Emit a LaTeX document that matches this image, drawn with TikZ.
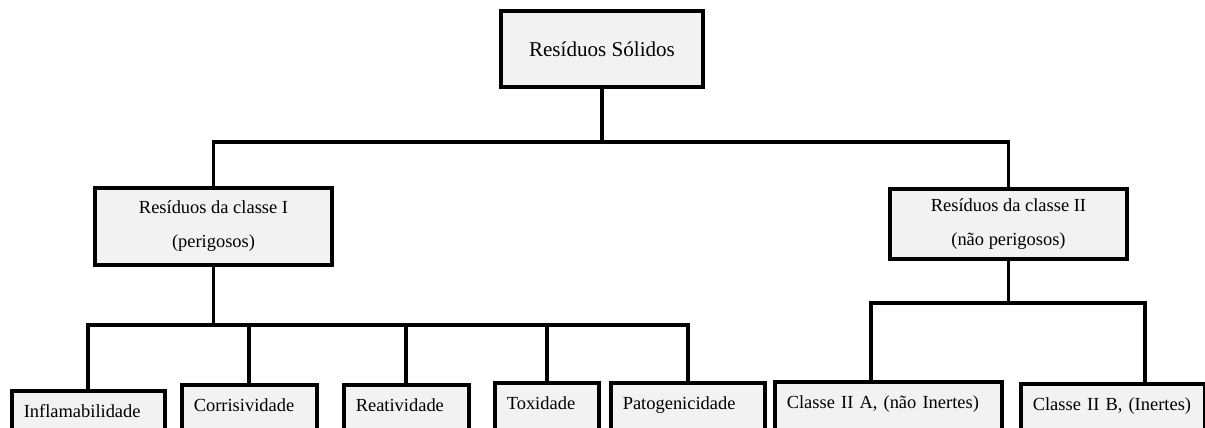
\documentclass[tikz,border=0pt]{standalone}
\usepackage{fontspec}
\setmainfont{Liberation Serif}
\usepackage{tikz}
\definecolor{boxgray}{HTML}{F2F2F2}

\tikzset{
  box/.style={draw, fill=boxgray, line width=2.1pt, align=center},
  leaf/.style={box, anchor=north west, align=left, text width=#1,
    inner xsep=6.8pt, inner ysep=8pt, text height=7.4pt, text depth=30pt,
    font=\fontsize{10.5}{12}\selectfont},
  link/.style={line width=2.1pt}
}

\begin{document}
\begin{tikzpicture}[x=0.02cm, y=-0.02cm]
        \clip (0,0) rectangle (1205,428);

        \node[box, minimum width=115pt, minimum height=43.2pt,
          font=\fontsize{12}{14}\selectfont] (res) at (602, 49) {Resíduos Sólidos};

        \node[box, minimum width=135pt, minimum height=43.8pt,
          font=\fontsize{10.5}{19.4}\selectfont] (perig) at (213.5, 226.5)
          {Resíduos da classe I\\(perigosos)};
        \node[box, minimum width=135pt, minimum height=39.8pt,
          font=\fontsize{10.5}{19.4}\selectfont] (naoperig) at (1008.5, 224)
          {Resíduos da classe II\\(não perigosos)};

        \node[leaf=73.4pt] (infl) at (10, 389) {Inflamabilidade};
        \node[leaf=63.2pt] (corr) at (180, 383) {Corrisividade};
        \node[leaf=57.5pt] (reat) at (342, 383) {Reatividade};
        \node[leaf=45.5pt] (tox) at (493, 381) {Toxidade};
        \node[leaf=74pt] (pato) at (609, 381) {Patogenicidade};
        \node[leaf=115.5pt] (iia) at (773, 380) {Classe II A, (não Inertes)};
        \node[leaf=91pt] (iib) at (1019, 382) {Classe II B, (Inertes)};

        \coordinate (busA) at (602, 142);
        \coordinate (busB) at (216, 325);
        \coordinate (busC) at (1012, 303);
        \coordinate (jA) at (871, 303);
        \coordinate (jB) at (1145, 303);

        \draw[link] (res.south) -- (busA);
        \draw[link] (perig.north) |- (busA) -| (naoperig.north);

        \draw[link] (perig.south) -- (perig.south |- busB);
        \foreach \n in {infl, corr, reat, tox, pato}
          \draw[link] (\n.north) |- (busB);

        \draw[link] (naoperig.south) -- (naoperig.south |- busC);
        \draw[link] (jA |- iia.north) -- (jA) -- (jB) -- (jB |- iib.north);
      \end{tikzpicture}
\end{document}
